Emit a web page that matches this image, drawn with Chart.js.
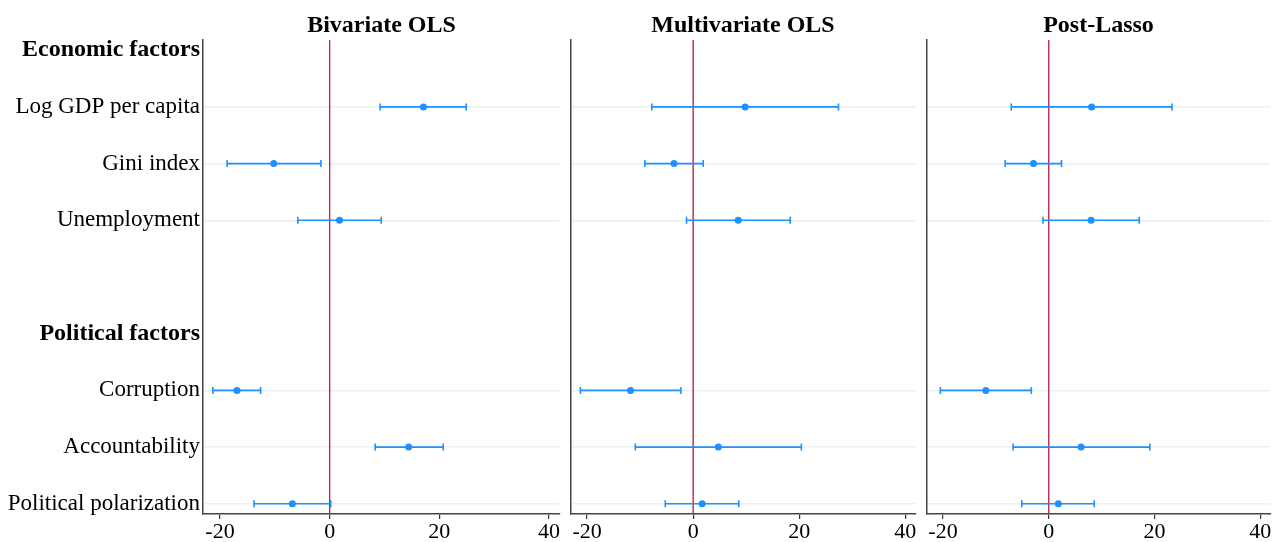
<!DOCTYPE html>
<html>
<head>
<meta charset="utf-8">
<script src="https://cdn.jsdelivr.net/npm/chart.js@4.4.0/dist/chart.umd.min.js"></script>
<style>
    body { margin: 0; background: #fff; }
    #wrap { position: relative; width: 1276px; height: 542px; overflow: hidden; }
    .panel { position: absolute; top: 0; height: 542px; }
    .title { position: absolute; top: 11px; font: bold 24px "Liberation Serif", serif; color: #000; transform: translateX(-50%); white-space: nowrap; }
</style>
</head>
<body>
<div id="wrap"></div>
<script>
const rowLabels = ['Economic factors', 'Log GDP per capita', 'Gini index', 'Unemployment', '',
    'Political factors', 'Corruption', 'Accountability', 'Political polarization'];
const headerRows = [0, 5];
const varRows = [1, 2, 3, 6, 7, 8];
const panelTitles = ['Bivariate OLS', 'Multivariate OLS', 'Post-Lasso'];
const xTicks = [-20, 0, 20, 40];

// estimates and 95% bounds, order: GDP, Gini, Unemployment, Corruption, Accountability, Polarization
const bivEst = [17.1, -10.2, 1.8, -16.9, 14.4, -6.8];
const bivLow = [9.2, -18.7, -5.8, -21.3, 8.3, -13.8];
const bivHigh = [24.9, -1.6, 9.4, -12.6, 20.7, 0.2];

const multiEst = [9.8, -3.6, 8.5, -11.8, 4.75, 1.7];
const multiLow = [-7.8, -9.1, -1.25, -21.25, -10.9, -5.25];
const multiHigh = [27.4, 1.9, 18.3, -2.3, 20.4, 8.6];

const lassoEst = [8.1, -2.9, 8.0, -11.9, 6.1, 1.8];
const lassoLow = [-7.1, -8.25, -1.1, -20.5, -6.75, -5.1];
const lassoHigh = [23.3, 2.4, 17.1, -3.3, 19.1, 8.6];

const BLUE = '#1e90ff';

function createPanel(idx, left, width, yWidth, est, low, high, zeroColor) {
    const wrap = document.getElementById('wrap');
    const box = document.createElement('div');
    box.className = 'panel';
    box.style.left = left + 'px';
    box.style.width = width + 'px';
    wrap.appendChild(box);

    const canvas = document.createElement('canvas');
    canvas.setAttribute('width', width);
    canvas.setAttribute('height', '542');
    box.appendChild(canvas);

    const datasets = [];
    // estimates
    datasets.push({
        data: est.map((v, i) => ({ x: v, y: varRows[i] })),
        showLine: false, pointRadius: 3.5, pointBackgroundColor: BLUE, pointBorderWidth: 0, order: 0
    });
    // confidence intervals
    est.forEach((v, i) => {
        datasets.push({
            data: [{ x: low[i], y: varRows[i] }, { x: high[i], y: varRows[i] }],
            showLine: true, borderColor: BLUE, borderWidth: 1.6,
            pointStyle: 'line', pointRotation: 90, pointRadius: 3.5,
            pointBorderColor: BLUE, pointBorderWidth: 1.6, order: 1
        });
    });
    // zero reference line
    datasets.push({
        data: [{ x: 0, y: -0.18 }, { x: 0, y: 8.18 }],
        showLine: true, borderColor: zeroColor, borderWidth: 1.3, pointRadius: 0, order: 2
    });

    new Chart(canvas.getContext('2d'), {
        type: 'scatter',
        data: { datasets: datasets },
        options: {
            responsive: false,
            animation: false,
            layout: { padding: { top: 40, right: 5, left: 0, bottom: 0 } },
            plugins: { legend: { display: false }, tooltip: { enabled: false } },
            scales: {
                x: {
                    type: 'linear', min: -23.1, max: 41.9,
                    afterBuildTicks: axis => { axis.ticks = xTicks.map(v => ({ value: v })); },
                    afterFit: axis => { axis.height = 28; },
                    grid: { drawOnChartArea: false, drawTicks: true, tickLength: 5, color: '#333', lineWidth: 1.2 },
                    border: { display: true, color: '#444', width: 1.5 },
                    ticks: { color: '#000', padding: 0, maxRotation: 0, font: { family: 'Liberation Serif', size: 22 } }
                },
                y: {
                    type: 'linear', min: -0.18, max: 8.18, reverse: true,
                    afterBuildTicks: axis => { axis.ticks = rowLabels.map((l, i) => ({ value: i })); },
                    afterFit: axis => { axis.width = yWidth; },
                    grid: {
                        drawTicks: false, lineWidth: 1.5,
                        color: ctx => varRows.includes(ctx.index) ? '#ebf0f3' : 'rgba(0,0,0,0)'
                    },
                    border: { display: true, color: '#444', width: 1.5 },
                    ticks: {
                        display: idx === 0, color: '#000', padding: 3, autoSkip: false,
                        callback: (v, i) => rowLabels[i],
                        font: ctx => headerRows.includes(ctx.index)
                            ? { family: 'Liberation Serif', size: 24, weight: 'bold' }
                            : { family: 'Liberation Serif', size: 23 }
                    }
                }
            }
        }
    });

    const title = document.createElement('div');
    title.className = 'title';
    title.textContent = panelTitles[idx];
    title.style.left = (left + yWidth + (width - yWidth - 5) / 2) + 'px';
    wrap.appendChild(title);
}

createPanel(0, 0, 565, 203, bivEst, bivLow, bivHigh, '#dc143c');
createPanel(1, 565, 356, 5, multiEst, multiLow, multiHigh, '#b01840');
createPanel(2, 921, 355, 5, lassoEst, lassoLow, lassoHigh, '#b01840');
</script>
</body>
</html>
